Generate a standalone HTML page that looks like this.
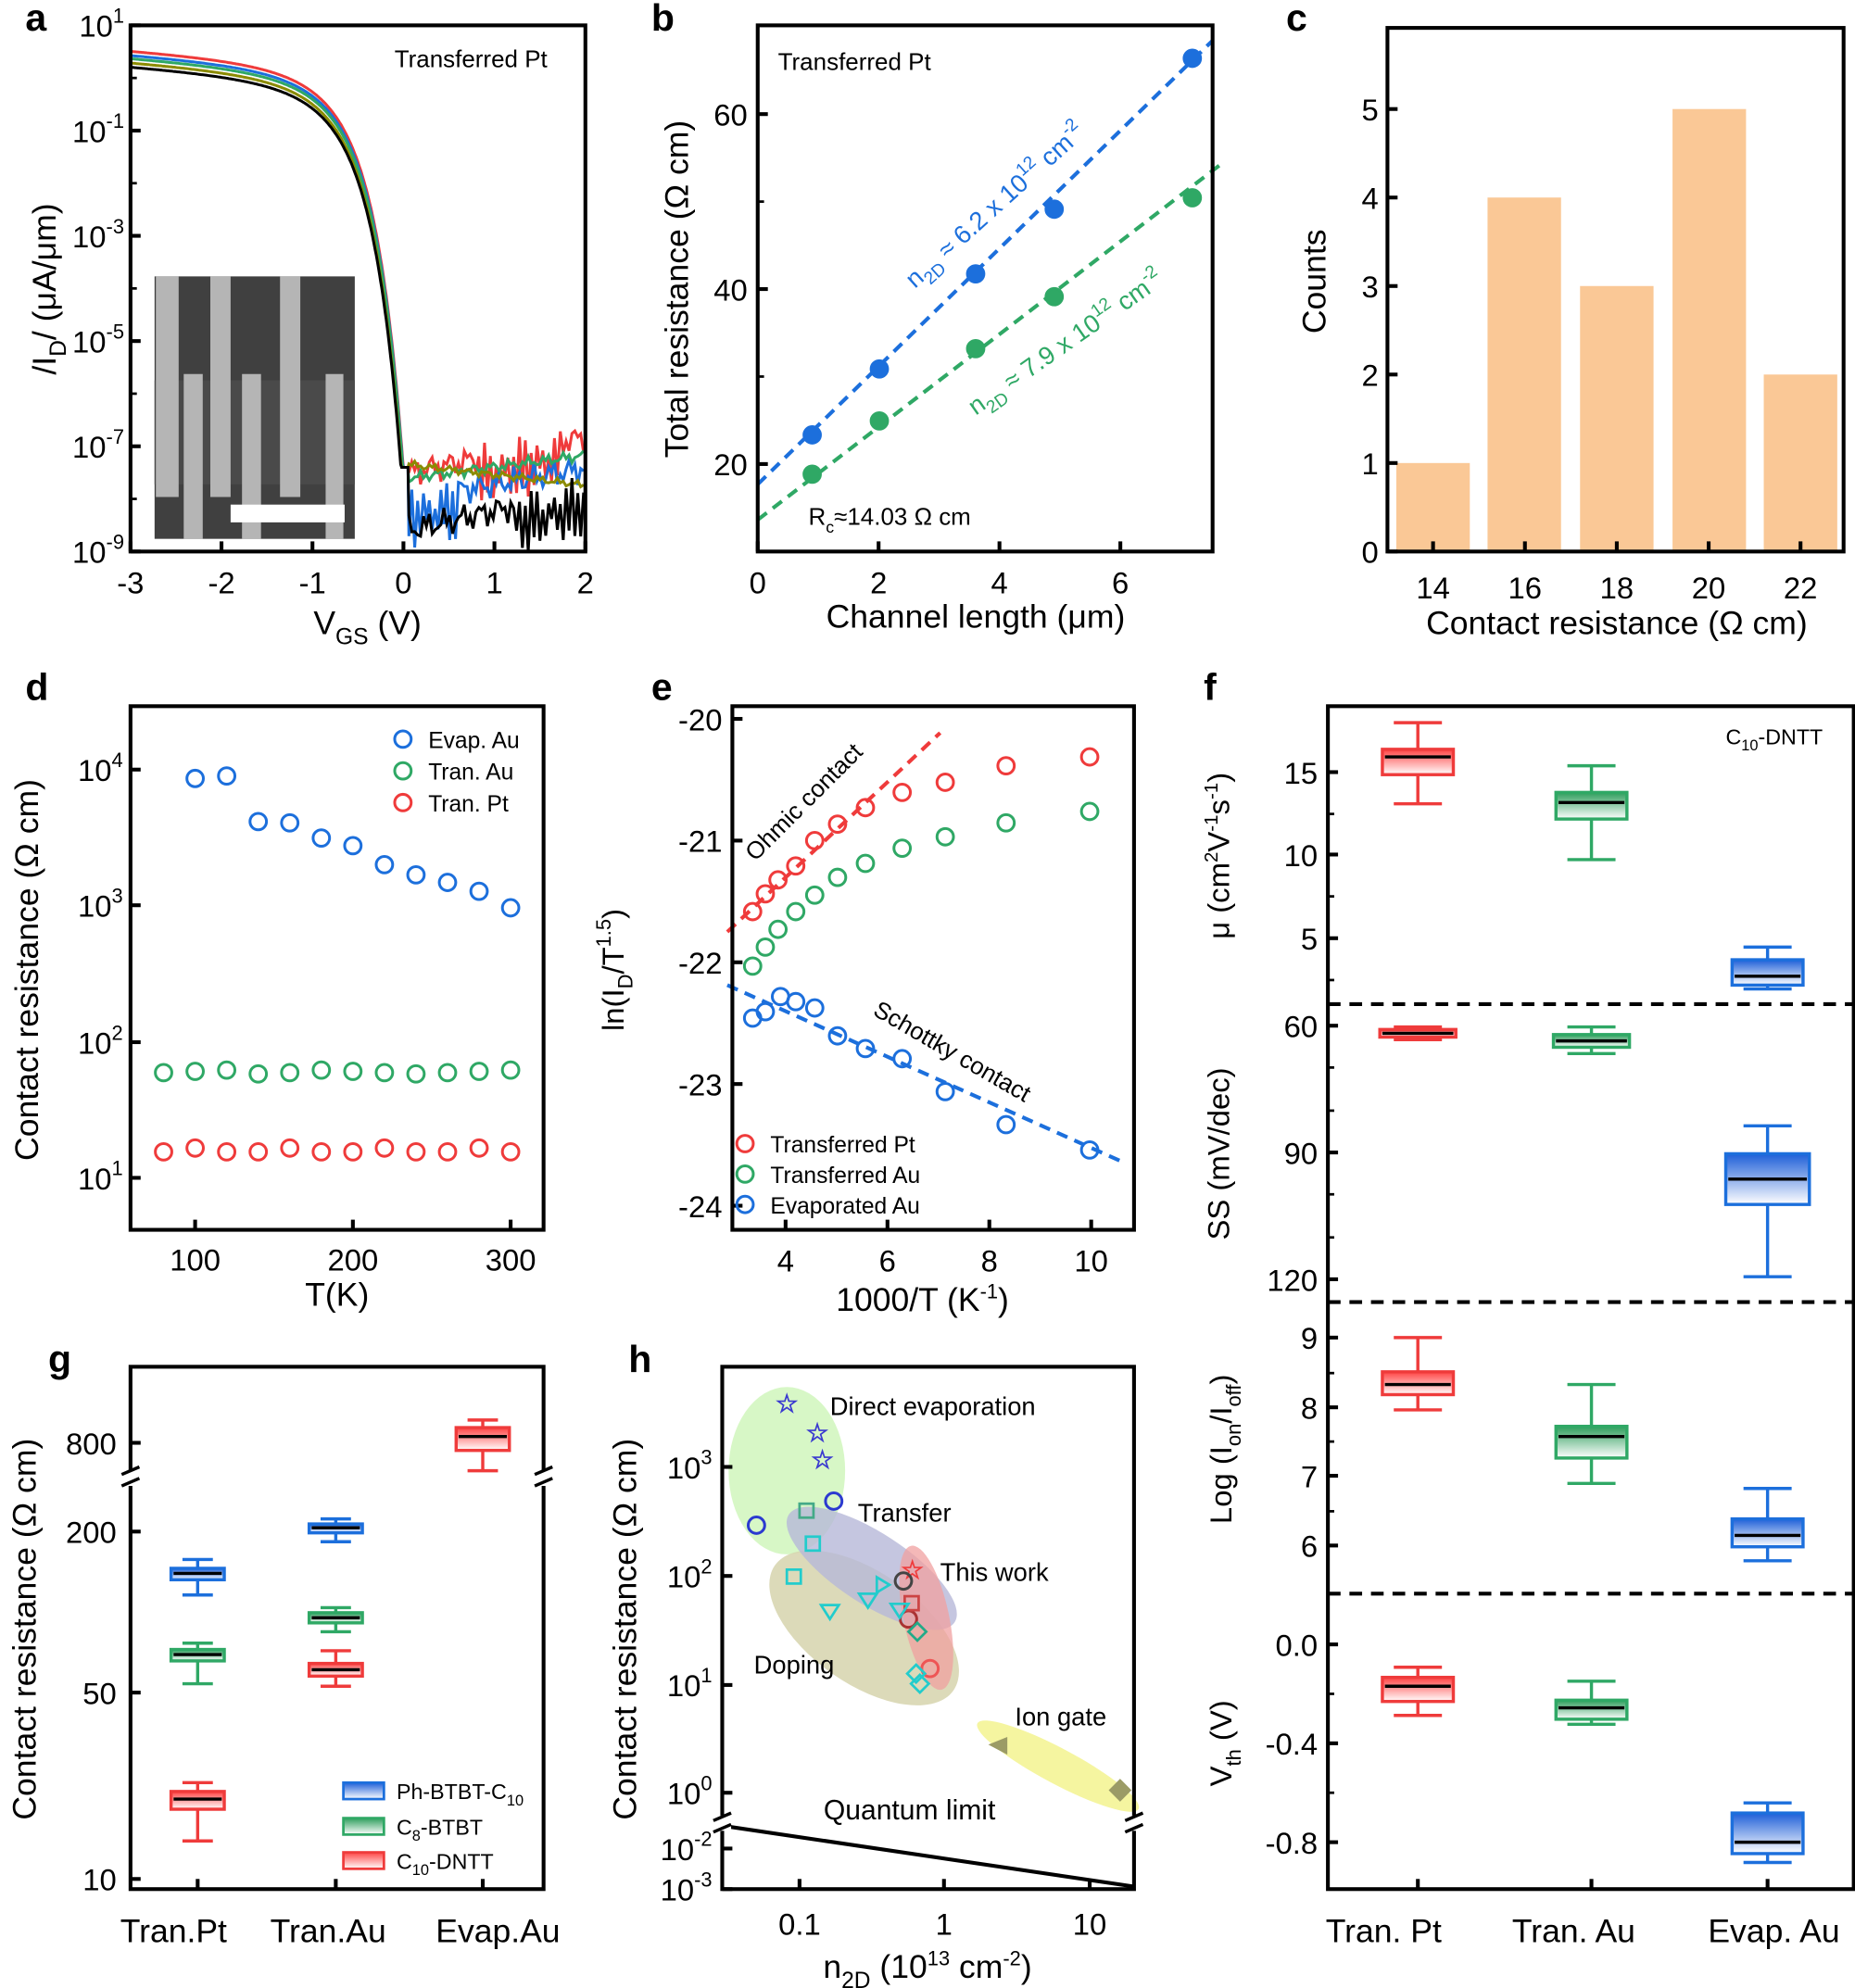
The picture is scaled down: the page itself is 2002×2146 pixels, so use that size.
<!DOCTYPE html>
<html><head><meta charset="utf-8"><style>
html,body{margin:0;padding:0;background:#fff}
svg{display:block}
text{font-family:"Liberation Sans",Arial,sans-serif;fill:#000}
</style></head><body>
<svg id="s" width="2002" height="2146" viewBox="0 0 1464 1568" preserveAspectRatio="none" xmlns="http://www.w3.org/2000/svg">
<defs>
<linearGradient id="gr" x1="0" y1="0" x2="0" y2="1"><stop offset="0" stop-color="#f44"/><stop offset="1" stop-color="#fff"/></linearGradient>
<linearGradient id="gg" x1="0" y1="0" x2="0" y2="1"><stop offset="0" stop-color="#2e9e5c"/><stop offset="1" stop-color="#fff"/></linearGradient>
<linearGradient id="gb" x1="0" y1="0" x2="0" y2="1"><stop offset="0" stop-color="#1e5fd8"/><stop offset="1" stop-color="#fff"/></linearGradient>
</defs>
<g id="root"></g>
</svg>
<script>
const R=document.getElementById('root');let H='';
const add=s=>H+=s;
const T=(x,y,t,sz=22,anc='middle',ex='')=>add(`<text x="${x}" y="${y}" font-size="${sz}" text-anchor="${anc}" ${ex}>${t}</text>`);
const L=(x1,y1,x2,y2,c='#000',w=3,ex='')=>add(`<line x1="${x1}" y1="${y1}" x2="${x2}" y2="${y2}" stroke="${c}" stroke-width="${w}" ${ex}/>`);
const box=(x1,y1,x2,y2)=>add(`<rect x="${x1}" y="${y1}" width="${x2-x1}" height="${y2-y1}" fill="none" stroke="#000" stroke-width="3"/>`);
const circ=(x,y,c,f='none')=>add(`<circle cx="${x}" cy="${y}" r="6.5" fill="${f}" stroke="${c}" stroke-width="2.2"/>`);
const RED='#ef3b3b',GRN='#2fa865',BLU='#1c6fdc';
[['a',20,24],['b',514,24],['c',1015,24],['d',20,552],['e',514,552],['f',950,552],['g',38,1082],['h',496,1082]].forEach(l=>T(l[1],l[2],l[0],30,'start','font-weight="bold"'));

// ===== a =====
{const X=v=>103+(v+3)*71.8, Y=l=>20+(1-l)*41.5;
 add(`<rect x="122" y="218" width="158" height="207" fill="#404040"/>`);
 add(`<rect x="122" y="300" width="158" height="82" fill="#4a4a4a"/>`);
 [[123,218,18,174],[166,218,16,174],[221,218,16,174]].forEach(r=>add(`<rect x="${r[0]}" y="${r[1]}" width="${r[2]}" height="${r[3]}" fill="#b5b5b5"/>`));
 [[145,295,15,130],[191,295,15,130],[257,295,14,130]].forEach(r=>add(`<rect x="${r[0]}" y="${r[1]}" width="${r[2]}" height="${r[3]}" fill="#b5b5b5"/>`));
 add(`<rect x="182" y="398" width="90" height="14" fill="#fff"/>`);
 const f=v=>0.5-0.13*(v+3)-0.35*Math.exp(1.6*(v+1))-5.85*Math.exp(3.5*v);
 const cols=[['#ef3b3b',0.02,-7.5,0.35,0.3],['#1c6fdc',-0.06,-8.0,0.3,0.3],['#2fa865',-0.12,-7.6,0.22,0.12],['#8b8b00',-0.2,-7.35,-0.2,0.08],['#000',-0.28,-8.6,0.4,0.3]];
 cols.forEach((c,i)=>{let p='';const sh=i>=3?0.012:0;for(let v=-3;v<=0.05;v+=0.01){let l=f(v+sh)+c[1];if(l<-7.4)l=-7.4;p+=(p?'L':'M')+X(v).toFixed(1)+','+Y(l).toFixed(1);}
  for(let k=0;k<=60;k++){const v=0.06+k*0.032;let base=c[2]+(v-0.06)*c[3];
   let n=(Math.sin(k*2.7+i*5)*0.5+Math.sin(k*7.3+i*2)*0.5)*c[4];
   if((i==0||i==1||i==4)&&Math.sin(k*3.1+i*1.7)>0.85) n-=0.7;
   let l=Math.max(-9.1,base+n);p+='L'+X(v).toFixed(1)+','+Y(l).toFixed(1);}
  add(`<path d="${p}" fill="none" stroke="${c[0]}" stroke-width="2.2"/>`);});
 add(`<rect x="0" y="436" width="480" height="10" fill="#fff"/>`);
 box(103,20,462,435);
 [[1,'1'],[-1,'-1'],[-3,'-3'],[-5,'-5'],[-7,'-7'],[-9,'-9']].forEach(t=>{const y=Y(t[0]);L(103,y,111,y);add(`<text x="98" y="${y+9}" font-size="24" text-anchor="end">10<tspan dy="-11" font-size="16">${t[1]}</tspan></text>`);});
 [0,-2,-4,-6,-8].forEach(t=>L(103,Y(t),108,Y(t),'#000',2));
 [-3,-2,-1,0,1,2].forEach(v=>{L(X(v),435,X(v),427);T(X(v),468,v,24);});
 T(432,53,'Transferred Pt',19,'end');
 add(`<text x="290" y="500" font-size="26" text-anchor="middle">V<tspan dy="8" font-size="18">GS</tspan><tspan dy="-8"> (V)</tspan></text>`);
 add(`<text transform="translate(44,228) rotate(-90)" font-size="26" text-anchor="middle">/I<tspan dy="8" font-size="18">D</tspan><tspan dy="-8">/ (μA/μm)</tspan></text>`);
}
// ===== b =====
{const X=v=>598+v*47.7,Y=v=>366-(v-20)*6.9;
 L(598,382,957,32,BLU,3,'stroke-dasharray="9,6"');L(598,410,963,130,GRN,3,'stroke-dasharray="9,6"');
 [[641,343],[694,291],[770,216],[832,165],[941,46]].forEach(p=>circ(p[0],p[1],BLU,BLU));
 [[641,374],[694,332],[770,275],[832,234],[941,156]].forEach(p=>circ(p[0],p[1],GRN,GRN));
 box(598,20,957,435);
 [20,40,60].forEach(v=>{L(598,Y(v),606,Y(v));T(590,Y(v)+9,v,24,'end');});
 [30,50].forEach(v=>L(598,Y(v),603,Y(v),'#000',2));
 [0,2,4,6].forEach(v=>{L(X(v),435,X(v),427);T(X(v),468,v,24);});
 T(614,55,'Transferred Pt',19,'start');
 add(`<text x="638" y="414" font-size="19">R<tspan dy="6" font-size="13">c</tspan><tspan dy="-6">≈14.03 Ω cm</tspan></text>`);
 add(`<text transform="translate(722,228) rotate(-42)" font-size="20" style="fill:${BLU}">n<tspan dy="6" font-size="14">2D</tspan><tspan dy="-6"> ≈ 6.2 x 10</tspan><tspan dy="-9" font-size="14">12</tspan><tspan dy="9"> cm</tspan><tspan dy="-9" font-size="14">-2</tspan></text>`);
 add(`<text transform="translate(770,328) rotate(-35)" font-size="20" style="fill:${GRN}">n<tspan dy="6" font-size="14">2D</tspan><tspan dy="-6"> ≈ 7.9 x 10</tspan><tspan dy="-9" font-size="14">12</tspan><tspan dy="9"> cm</tspan><tspan dy="-9" font-size="14">-2</tspan></text>`);
 T(770,495,'Channel length (μm)',26);
 T(543,228,'Total resistance (Ω cm)',26,'middle','transform="rotate(-90 543 228)"');
}
// ===== c =====
{const Y=v=>435-v*69.8;
 [[1102,1],[1174,4],[1247,3],[1320,5],[1392,2]].forEach(b=>add(`<rect x="${b[0]}" y="${Y(b[1])}" width="58" height="${b[1]*69.8}" fill="#fac896"/>`));
 box(1095,22,1455,435);
 [0,1,2,3,4,5].forEach(v=>{L(1095,Y(v),1103,Y(v));T(1088,Y(v)+9,v,24,'end');});
 [14,16,18,20,22].forEach((v,i)=>{const x=1131+i*72.5;L(x,435,x,427);T(x,472,v,24);});
 T(1276,500,'Contact resistance (Ω cm)',26);
 T(1046,222,'Counts',26,'middle','transform="rotate(-90 1046 222)"');
}
// ===== d =====
{const X=v=>154+(v-100)*1.245;
 const ly=[614,612,648,649,661,667,682,690,696,703,716];
 ly.forEach((y,i)=>circ(X(100+i*20),y,BLU));
 const gy=[846,845,844,847,846,844,845,846,847,846,845,844];
 [80,100,120,140,160,180,200,220,240,260,280,300].forEach((t,i)=>{circ(X(t),gy[i],GRN);circ(X(t),907+(i%3==1?-1:1)*1.5,RED);});
 box(103,557,429,970);
 [[4,607],[3,714],[2,822],[1,929]].forEach(t=>{L(103,t[1],111,t[1]);add(`<text x="97" y="${t[1]+9}" font-size="24" text-anchor="end">10<tspan dy="-11" font-size="16">${t[0]}</tspan></text>`);});
 [100,200,300].forEach(v=>{L(X(v),970,X(v),962);T(X(v),1002,v,24);});
 T(266,1030,'T(K)',26);
 T(30,765,'Contact resistance (Ω cm)',26,'middle','transform="rotate(-90 30 765)"');
 [['Evap. Au',BLU,583],['Tran. Au',GRN,608],['Tran. Pt',RED,633]].forEach(l=>{circ(318,l[2],l[1]);T(338,l[2]+7,l[0],18,'start');});
}
// ===== e =====
{const X=v=>620+(v-4)*40.2,Y=v=>567-(v+20)*96;
 L(574,735,742,578,RED,3,'stroke-dasharray="9,6"');
 L(574,777,885,916,BLU,3,'stroke-dasharray="9,6"');
 [[594,719],[604,705],[614,694],[628,683],[643,663],[661,650],[683,637],[712,625],[746,617],[794,604],[860,597]].forEach(p=>circ(p[0],p[1],RED));
 [[594,762],[604,747],[614,733],[628,719],[643,706],[661,692],[683,681],[712,669],[746,660],[794,649],[860,640]].forEach(p=>circ(p[0],p[1],GRN));
 [[594,803],[604,798],[616,786],[628,790],[643,795],[661,817],[683,827],[712,835],[746,861],[794,887],[860,907]].forEach(p=>circ(p[0],p[1],BLU));
 box(578,557,895,970);
 [-20,-21,-22,-23,-24].forEach(v=>{L(578,Y(v),586,Y(v));T(570,Y(v)+9,v,24,'end');});
 [4,6,8,10].forEach(v=>{L(X(v),970,X(v),962);T(X(v),1003,v,24);});
 add(`<text x="728" y="1034" font-size="26" text-anchor="middle">1000/T (K<tspan dy="-10" font-size="16">-1</tspan><tspan dy="10">)</tspan></text>`);
 add(`<text transform="translate(492,765) rotate(-90)" font-size="24" text-anchor="middle">ln(I<tspan dy="7" font-size="16">D</tspan><tspan dy="-7">/T</tspan><tspan dy="-10" font-size="16">1.5</tspan><tspan dy="10">)</tspan></text>`);
 T(596,680,'Ohmic contact',19,'start','transform="rotate(-45 596 680)"');
 T(688,800,'Schottky contact',19,'start','transform="rotate(30 688 800)"');
 [['Transferred Pt',RED,902],['Transferred Au',GRN,926],['Evaporated Au',BLU,950]].forEach(l=>{circ(588,l[2],l[1]);T(608,l[2]+7,l[0],18,'start');});
}
// ===== f =====
{L(1048,792,1463,792,'#000',3,'stroke-dasharray="10,7"');L(1048,1027,1463,1027,'#000',3,'stroke-dasharray="10,7"');L(1048,1257,1463,1257,'#000',3,'stroke-dasharray="10,7"');
 const bx=(cx,w,wt,wb,bt,bb,md,col,g)=>{L(cx,wt,cx,bt,col,2.5);L(cx,bb,cx,wb,col,2.5);L(cx-19,wt,cx+19,wt,col,2.5);L(cx-19,wb,cx+19,wb,col,2.5);
  add(`<rect x="${cx-w/2}" y="${bt}" width="${w}" height="${bb-bt}" fill="url(#${g})" stroke="${col}" stroke-width="2.5"/>`);L(cx-w/2+2,md,cx+w/2-2,md,'#000',2.5);};
 const P=1119,A=1256,E=1395;
 bx(P,56,570,634,591,611,597,RED,'gr');bx(A,56,604,678,625,646,633,GRN,'gg');bx(E,56,747,780,757,777,770,BLU,'gb');
 bx(P,60,810,820,812,818,815,RED,'gr');bx(A,60,810,831,816,826,821,GRN,'gg');bx(E,66,888,1007,910,950,930,BLU,'gb');
 bx(P,56,1055,1112,1082,1100,1092,RED,'gr');bx(A,56,1092,1170,1125,1150,1133,GRN,'gg');bx(E,56,1174,1231,1198,1220,1211,BLU,'gb');
 bx(P,56,1315,1353,1323,1342,1330,RED,'gr');bx(A,56,1326,1360,1341,1356,1347,GRN,'gg');bx(E,56,1422,1469,1430,1462,1453,BLU,'gb');
 box(1048,557,1463,1490);
 [[15,609],[10,674],[5,740],[60,809],[90,909],[120,1009],[9,1055],[8,1110],[7,1164],[6,1219],['0.0',1297],['-0.4',1375],['-0.8',1453]].forEach(t=>{L(1048,t[1],1056,t[1]);T(1040,t[1]+9,t[0],24,'end');});
 [642,707,773,842,876,942,976,1083,1137,1192,1336,1414].forEach(y=>L(1048,y,1053,y,'#000',2));
 add(`<text x="1362" y="587" font-size="17">C<tspan dy="5" font-size="12">10</tspan><tspan dy="-5">-DNTT</tspan></text>`);
 [['Tran. Pt',1092],['Tran. Au',1242],['Evap. Au',1400]].forEach(t=>T(t[1],1532,t[0],26));
 [1119,1256,1395].forEach(x=>L(x,1490,x,1482));
 add(`<text transform="translate(970,675) rotate(-90)" font-size="24" text-anchor="middle">μ (cm<tspan dy="-9" font-size="15">2</tspan><tspan dy="9">V</tspan><tspan dy="-9" font-size="15">-1</tspan><tspan dy="9">s</tspan><tspan dy="-9" font-size="15">-1</tspan><tspan dy="9">)</tspan></text>`);
 T(970,910,'SS (mV/dec)',24,'middle','transform="rotate(-90 970 910)"');
 add(`<text transform="translate(972,1143) rotate(-90)" font-size="24" text-anchor="middle">Log (I<tspan dy="7" font-size="16">on</tspan><tspan dy="-7">/I</tspan><tspan dy="7" font-size="16">off</tspan><tspan dy="-7">)</tspan></text>`);
 add(`<text transform="translate(972,1375) rotate(-90)" font-size="24" text-anchor="middle">V<tspan dy="7" font-size="16">th</tspan><tspan dy="-7"> (V)</tspan></text>`);
}
// ===== g =====
{const bx=(cx,wt,wb,bt,bb,md,col,g)=>{L(cx,wt,cx,bt,col,2.5);L(cx,bb,cx,wb,col,2.5);L(cx-12,wt,cx+12,wt,col,2.5);L(cx-12,wb,cx+12,wb,col,2.5);
  add(`<rect x="${cx-21}" y="${bt}" width="42" height="${bb-bt}" fill="url(#${g})" stroke="${col}" stroke-width="2.5"/>`);L(cx-19,md,cx+19,md,'#000',2.5);};
 bx(156,1230,1258,1237,1246,1241,BLU,'gb');bx(156,1296,1328,1301,1310,1305,GRN,'gg');bx(156,1406,1452,1413,1427,1419,RED,'gr');
 bx(265,1198,1216,1202,1209,1205,BLU,'gb');bx(265,1268,1287,1272,1280,1276,GRN,'gg');bx(265,1302,1330,1312,1322,1317,RED,'gr');
 bx(381,1120,1160,1126,1144,1133,RED,'gr');
 box(103,1078,429,1490);
 add(`<rect x="96" y="1160" width="14" height="12" fill="#fff"/><rect x="422" y="1160" width="14" height="12" fill="#fff"/>`);
 L(96,1163,110,1157,'#000',2.5);L(96,1172,110,1166,'#000',2.5);L(422,1163,436,1157,'#000',2.5);L(422,1172,436,1166,'#000',2.5);
 [[800,1138],[200,1208],[50,1335],[10,1482]].forEach(t=>{L(103,t[1],111,t[1]);T(92,t[1]+9,t[0],24,'end');});
 [156,265,381].forEach(x=>L(x,1490,x,1482));
 [[137,'Tran.Pt'],[259,'Tran.Au'],[393,'Evap.Au']].forEach(t=>T(t[0],1532,t[1],26));
 T(28,1285,'Contact resistance (Ω cm)',26,'middle','transform="rotate(-90 28 1285)"');
 [[BLU,'gb',1413,'Ph-BTBT-C<tspan dy="5" font-size="12">10</tspan>'],[GRN,'gg',1441,'C<tspan dy="5" font-size="12">8</tspan><tspan dy="-5">-BTBT</tspan>'],[RED,'gr',1468,'C<tspan dy="5" font-size="12">10</tspan><tspan dy="-5">-DNTT</tspan>']].forEach(l=>{
  add(`<rect x="271" y="${l[2]-7}" width="32" height="13" fill="url(#${l[1]})" stroke="${l[0]}" stroke-width="2"/>`);add(`<text x="313" y="${l[2]+6}" font-size="17">${l[3]}</text>`);});
}
// ===== h =====
{add(`<ellipse cx="621" cy="1160" rx="46" ry="66" fill="#cdf5b8" opacity="0.8"/>`);
 add(`<ellipse cx="682" cy="1284" rx="86" ry="44" transform="rotate(35 682 1284)" fill="#d6d3ad" opacity="0.85"/>`);
 add(`<ellipse cx="688" cy="1237" rx="78" ry="28" transform="rotate(33 688 1237)" fill="#b6b8d8" opacity="0.8"/>`);
 add(`<ellipse cx="731" cy="1276" rx="18" ry="58" transform="rotate(-12 731 1276)" fill="#f0a0a0" opacity="0.75"/>`);
 add(`<ellipse cx="835" cy="1393" rx="72" ry="14" transform="rotate(28 835 1393)" fill="#f5f5a0"/>`);
 add(`<polygon points="780,1376 795,1370 795,1384" fill="#9b9b66"/><polygon points="875,1412 884,1403 893,1412 884,1421" fill="#9b9b66"/>`);
 [[621,1107],[645,1130],[649,1151]].forEach(p=>T(p[0],p[1]+7,'☆',20,'middle',`style="fill:#3a3ad0;font-weight:bold"`));
 T(720,1245,'☆',20,'middle','style="fill:#ef3b3b;font-weight:bold"');
 circ(597,1203,'#2c3ad0');circ(658,1184,'#2c3ad0');circ(713,1247,'#444');circ(717,1277,'#a33');circ(734,1316,'#e55');
 add(`<g fill="none" stroke-width="2"><rect x="631" y="1186" width="11" height="11" stroke="#4a8"/><rect x="636" y="1212" width="11" height="11" stroke="#2cc"/><rect x="621" y="1238" width="11" height="11" stroke="#2cc"/><rect x="714" y="1259" width="11" height="11" stroke="#c44"/>
 <path d="M648,1266 L662,1266 L655,1277 Z" stroke="#2cc"/><path d="M678,1257 L692,1257 L685,1268 Z" stroke="#2cc"/><path d="M703,1265 L717,1265 L710,1276 Z" stroke="#2cc"/>
 <path d="M724,1280 l7,7 l-7,7 l-7,-7 z" stroke="#2a8"/><path d="M723,1313 l7,7 l-7,7 l-7,-7 z" stroke="#2cc"/><path d="M726,1321 l7,7 l-7,7 l-7,-7 z" stroke="#2cc"/>
 <path d="M692,1244 l10,6 l-10,6 z" stroke="#2cc"/></g>`);
 box(570,1078,895,1490);
 L(570,1440,895,1488,'#000',3);
 add(`<rect x="563" y="1432" width="14" height="12" fill="#fff"/><rect x="888" y="1432" width="14" height="12" fill="#fff"/>`);
 L(563,1436,577,1430,'#000',2.5);L(563,1445,577,1439,'#000',2.5);L(888,1436,902,1430,'#000',2.5);L(888,1445,902,1439,'#000',2.5);
 [[3,1157],[2,1243],[1,1329],[0,1414],[-2,1458],[-3,1490]].forEach(t=>{L(570,t[1],578,t[1]);add(`<text x="562" y="${t[1]+9}" font-size="24" text-anchor="end">10<tspan dy="-11" font-size="16">${t[0]}</tspan></text>`);});
 [[631,'0.1'],[745,'1'],[860,'10']].forEach(t=>{L(t[0],1490,t[0],1482);T(t[0],1526,t[1],24);});
 add(`<text x="732" y="1560" font-size="26" text-anchor="middle">n<tspan dy="8" font-size="18">2D</tspan><tspan dy="-8"> (10</tspan><tspan dy="-10" font-size="16">13</tspan><tspan dy="10"> cm</tspan><tspan dy="-10" font-size="16">-2</tspan><tspan dy="10">)</tspan></text>`);
 T(502,1285,'Contact resistance (Ω cm)',26,'middle','transform="rotate(-90 502 1285)"');
 T(655,1116,'Direct evaporation',20,'start');T(677,1200,'Transfer',20,'start');T(742,1247,'This work',20,'start');
 T(595,1320,'Doping',20,'start');T(801,1361,'Ion gate',20,'start');T(650,1435,'Quantum limit',22,'start');
}
R.innerHTML=H;
</script>
</body></html>
